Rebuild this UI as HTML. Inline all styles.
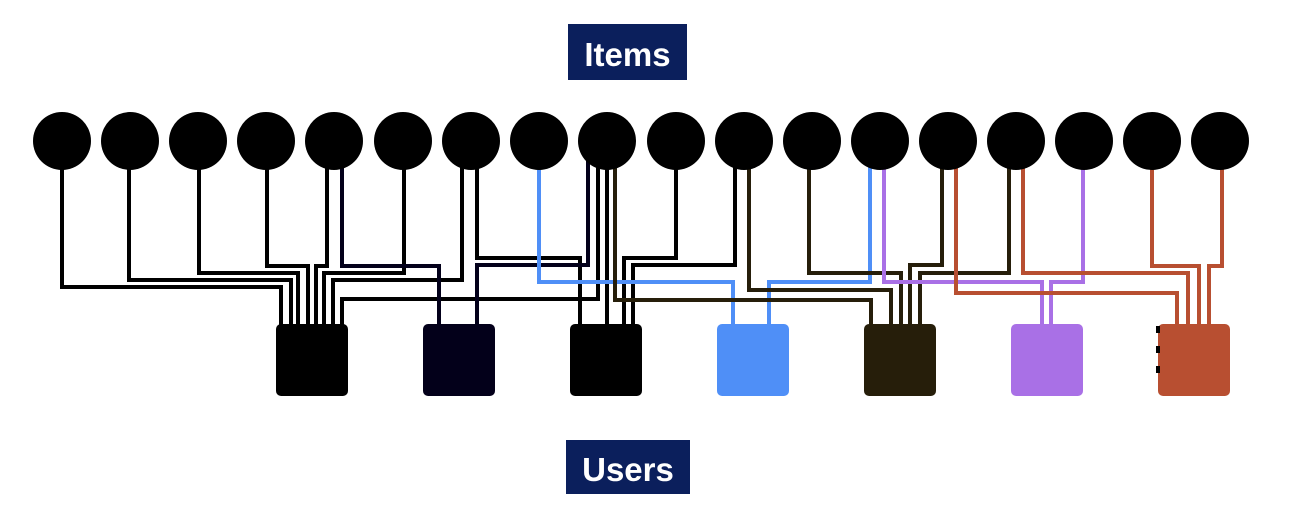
<!DOCTYPE html>
<html><head><meta charset="utf-8"><style>
html,body{margin:0;padding:0;background:#fff;}
svg{display:block;}
text{font-family:"Liberation Sans",sans-serif;font-weight:bold;}
</style></head><body>
<svg width="1290" height="522" viewBox="0 0 1290 522" xmlns="http://www.w3.org/2000/svg">
<rect x="568" y="24" width="119" height="56" fill="#0b1f5c"/>
<text x="627.5" y="66" font-size="33" fill="#fff" text-anchor="middle">Items</text>
<rect x="566" y="440" width="124" height="54" fill="#0b1f5c"/>
<text x="628" y="481" font-size="33" fill="#fff" text-anchor="middle">Users</text>
<g fill="none" stroke-width="4" stroke-linejoin="miter">
<!-- square1 black -->
<g stroke="#000">
<polyline points="62,160 62,287 281,287 281,330"/>
<polyline points="129,160 129,280 291,280 291,330"/>
<polyline points="199,160 199,273 298,273 298,330"/>
<polyline points="267,160 267,266 308,266 308,330"/>
<polyline points="327,160 327,266 316,266 316,330"/>
<polyline points="404,160 404,273 324,273 324,330"/>
<polyline points="462,160 462,280 333,280 333,330"/>
<polyline points="598,160 598,299 342,299 342,330"/>
<!-- square3 -->
<polyline points="477,160 477,258 580,258 580,330"/>
<polyline points="607,160 607,330"/>
<polyline points="676,160 676,258 624,258 624,330"/>
<polyline points="735,160 735,265 633,265 633,330"/>
</g>
<g stroke="#03001a">
<polyline points="342,160 342,266 439,266 439,330"/>
<polyline points="588,160 588,265 477,265 477,330"/>
</g>
<g stroke="#4f8ff7">
<polyline points="539,160 539,282 733,282 733,330"/>
<polyline points="870,160 870,282 769,282 769,330"/>
</g>
<g stroke="#261e0a">
<polyline points="615,160 615,300 871,300 871,330"/>
<polyline points="749,160 749,290 891,290 891,330"/>
<polyline points="809,160 809,273 901,273 901,330"/>
<polyline points="942,160 942,265 910,265 910,330"/>
<polyline points="1009,160 1009,273 920,273 920,330"/>
</g>
<g stroke="#a970e6">
<polyline points="884,160 884,282 1042,282 1042,330"/>
<polyline points="1083,160 1083,282 1051,282 1051,330"/>
</g>
<g stroke="#b84f31">
<polyline points="956,160 956,293 1177,293 1177,330"/>
<polyline points="1023,160 1023,273 1188,273 1188,330"/>
<polyline points="1152,160 1152,266 1199,266 1199,330"/>
<polyline points="1222,160 1222,266 1209,266 1209,330"/>
</g>
</g>
<g fill="#000">
<circle cx="62" cy="141" r="29"/><circle cx="130" cy="141" r="29"/><circle cx="198" cy="141" r="29"/>
<circle cx="266" cy="141" r="29"/><circle cx="334" cy="141" r="29"/><circle cx="403" cy="141" r="29"/>
<circle cx="471" cy="141" r="29"/><circle cx="539" cy="141" r="29"/><circle cx="607" cy="141" r="29"/>
<circle cx="676" cy="141" r="29"/><circle cx="744" cy="141" r="29"/><circle cx="812" cy="141" r="29"/>
<circle cx="880" cy="141" r="29"/><circle cx="948" cy="141" r="29"/><circle cx="1016" cy="141" r="29"/>
<circle cx="1084" cy="141" r="29"/><circle cx="1152" cy="141" r="29"/><circle cx="1220" cy="141" r="29"/>
</g>
<rect x="276" y="324" width="72" height="72" rx="5" fill="#000"/>
<rect x="423" y="324" width="72" height="72" rx="5" fill="#03001a"/>
<rect x="570" y="324" width="72" height="72" rx="5" fill="#000"/>
<rect x="717" y="324" width="72" height="72" rx="5" fill="#4f8ff7"/>
<rect x="864" y="324" width="72" height="72" rx="5" fill="#261e0a"/>
<rect x="1011" y="324" width="72" height="72" rx="5" fill="#a970e6"/>
<rect x="1158" y="324" width="72" height="72" rx="5" fill="#b84f31"/>
<g fill="#000">
<rect x="1156" y="326" width="4" height="7"/><rect x="1156" y="346" width="4" height="7"/><rect x="1156" y="366" width="4" height="7"/>
</g>
</svg>
</body></html>
